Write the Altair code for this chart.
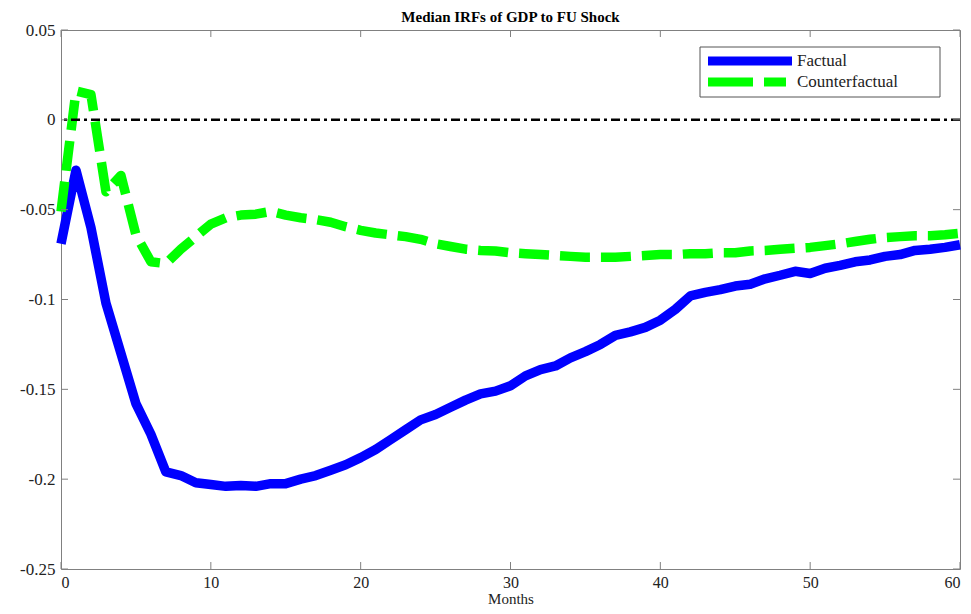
import altair as alt
import pandas as pd

months = list(range(61))

factual = [-0.069, -0.028, -0.060, -0.102, -0.130, -0.158, -0.175, -0.196, -0.198, -0.202,
           -0.203, -0.204, -0.2035, -0.204, -0.2025, -0.2025, -0.200, -0.198, -0.195, -0.192,
           -0.188, -0.1835, -0.178, -0.1725, -0.167, -0.164, -0.160, -0.156, -0.1525, -0.151,
           -0.148, -0.1425, -0.139, -0.137, -0.1325, -0.129, -0.125, -0.120, -0.118, -0.1155,
           -0.1115, -0.1055, -0.098, -0.096, -0.0945, -0.0925, -0.0915, -0.0885, -0.0865, -0.0843,
           -0.0855, -0.0826, -0.081, -0.079, -0.078, -0.076, -0.075, -0.0727, -0.072, -0.071,
           -0.0695]

counterfactual = [-0.051, 0.016, 0.014, -0.040, -0.031, -0.064, -0.079, -0.080, -0.072, -0.065,
                  -0.058, -0.0545, -0.053, -0.0525, -0.051, -0.053, -0.0545, -0.0555, -0.057, -0.0595,
                  -0.0615, -0.063, -0.064, -0.065, -0.0665, -0.069, -0.0705, -0.072, -0.0727, -0.073,
                  -0.074, -0.0745, -0.075, -0.0755, -0.076, -0.0765, -0.0765, -0.0765, -0.076, -0.0755,
                  -0.075, -0.075, -0.0745, -0.0745, -0.074, -0.074, -0.073, -0.0727, -0.072, -0.0715,
                  -0.071, -0.070, -0.069, -0.0677, -0.0665, -0.0655, -0.065, -0.0645, -0.0645, -0.064,
                  -0.0632]

series_names = ["Factual", "Counterfactual"]
series_colors = ["#0000FF", "#00FF00"]
x_ticks = [0, 10, 20, 30, 40, 50, 60]
y_ticks = [0.05, 0, -0.05, -0.1, -0.15, -0.2, -0.25]

W, H = 899, 539
FONT = "'Liberation Serif', 'DejaVu Serif', 'Times New Roman', serif"
AXIS_GRAY = "#808080"
TXT = "#222222"

df = pd.DataFrame({
    "month": months * 2,
    "value": factual + counterfactual,
    "series": [series_names[0]] * len(months) + [series_names[1]] * len(months),
})

xscale = alt.Scale(domain=[0, 60], nice=False, zero=False)
yscale = alt.Scale(domain=[-0.25, 0.05], nice=False, zero=False)

xaxis = alt.Axis(values=x_ticks, tickSize=0, domain=False, grid=False, labelFont=FONT,
                 labelFontSize=16, labelColor=TXT, labelPadding=5, labelExpr="'' + datum.value",
                 title="Months", titleFont=FONT, titleFontSize=15, titleFontWeight="normal",
                 titleColor=TXT, titlePadding=1)
yaxis = alt.Axis(values=y_ticks, tickSize=0, domain=False, grid=False, labelFont=FONT,
                 labelFontSize=17, labelColor=TXT, labelPadding=6, labelExpr="'' + datum.value",
                 title=None)

base = alt.Chart(df)

fact_line = base.transform_filter(alt.datum.series == series_names[0]).mark_line(
    color=series_colors[0], strokeWidth=9.5, strokeJoin="round", strokeCap="butt"
).encode(
    x=alt.X("month:Q", scale=xscale, axis=xaxis),
    y=alt.Y("value:Q", scale=yscale, axis=yaxis),
)

cf_line = base.transform_filter(alt.datum.series == series_names[1]).mark_line(
    color=series_colors[1], strokeWidth=9.5, strokeDash=[30, 11], strokeJoin="round", strokeCap="butt"
).encode(
    x=alt.X("month:Q", scale=xscale),
    y=alt.Y("value:Q", scale=yscale),
)

zero_line = alt.Chart(pd.DataFrame({"z": [0]})).mark_rule(
    color="black", strokeWidth=2.5, strokeDash=[9, 4, 3, 4]
).encode(y=alt.Y("z:Q", scale=yscale))

# inward ticks on all four sides
xt = pd.DataFrame({"t": x_ticks})
yt = pd.DataFrame({"t": y_ticks})
tick_style = dict(color=AXIS_GRAY, strokeWidth=1)
xt_bottom = alt.Chart(xt).mark_rule(**tick_style).encode(
    x=alt.X("t:Q", scale=xscale), y=alt.value(H - 7), y2=alt.value(H))
xt_top = alt.Chart(xt).mark_rule(**tick_style).encode(
    x=alt.X("t:Q", scale=xscale), y=alt.value(0), y2=alt.value(7))
yt_left = alt.Chart(yt).mark_rule(**tick_style).encode(
    y=alt.Y("t:Q", scale=yscale), x=alt.value(0), x2=alt.value(7))
yt_right = alt.Chart(yt).mark_rule(**tick_style).encode(
    y=alt.Y("t:Q", scale=yscale), x=alt.value(W - 7), x2=alt.value(W))

# legend
leg = pd.DataFrame({"series": series_names, "color": series_colors})
leg_box = alt.Chart(pd.DataFrame({"a": [1]})).mark_rect(
    fill="white", stroke="#555555", strokeWidth=1
).encode(x=alt.value(639), x2=alt.value(879), y=alt.value(17), y2=alt.value(67))
leg_fact = alt.Chart(leg.iloc[[0]]).mark_rule(color=series_colors[0], strokeWidth=9).encode(
    x=alt.value(647), x2=alt.value(731), y=alt.value(31))
leg_cf = alt.Chart(leg.iloc[[1]]).mark_rule(color=series_colors[1], strokeWidth=9,
                                             strokeDash=[45, 11]).encode(
    x=alt.value(647), x2=alt.value(725), y=alt.value(52))
leg_t1 = alt.Chart(leg.iloc[[0]]).mark_text(
    font=FONT, fontSize=17, align="left", baseline="middle", color=TXT
).encode(x=alt.value(736), y=alt.value(31), text="series:N")
leg_t2 = alt.Chart(leg.iloc[[1]]).mark_text(
    font=FONT, fontSize=17, align="left", baseline="middle", color=TXT
).encode(x=alt.value(736), y=alt.value(52), text="series:N")

chart = alt.layer(
    fact_line, cf_line, zero_line,
    xt_bottom, xt_top, yt_left, yt_right,
    leg_box, leg_fact, leg_cf, leg_t1, leg_t2,
).properties(
    width=W, height=H,
    title=alt.TitleParams("Median IRFs of GDP to FU Shock", font=FONT, fontSize=15,
                          fontWeight="bold", color="black", anchor="middle", offset=-4),
    autosize=alt.AutoSizeParams(type="none"),
    padding={"left": 53, "top": 22, "right": 3, "bottom": 37},
).configure_view(stroke=AXIS_GRAY, strokeWidth=1)

chart.save("out.html", embed_options={"renderer": "svg", "actions": False})
